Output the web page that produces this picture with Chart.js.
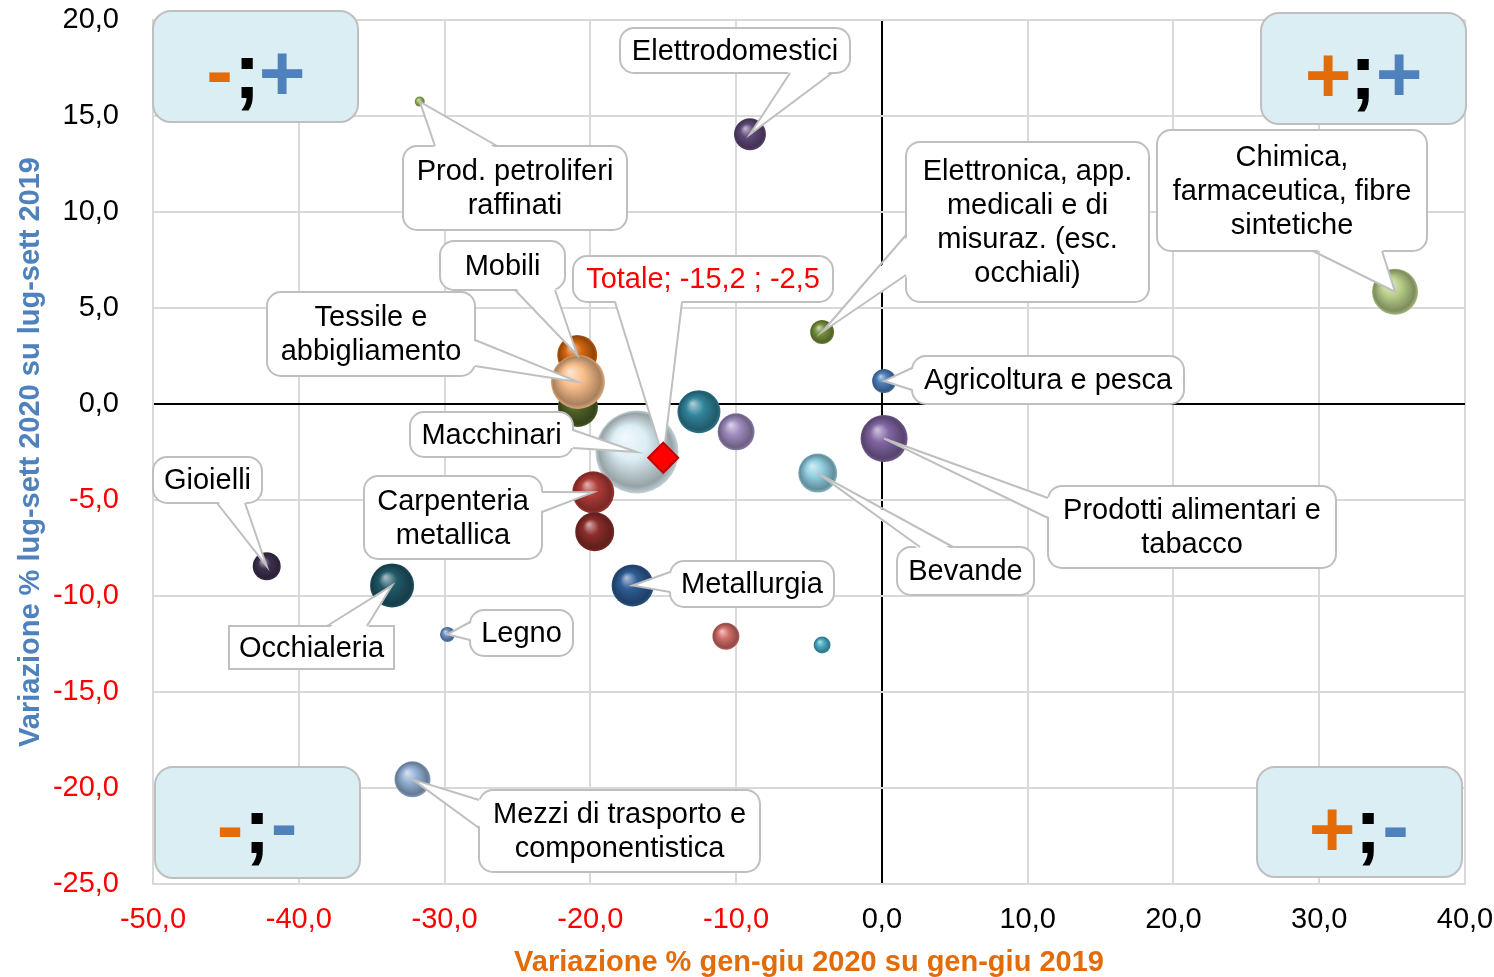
<!DOCTYPE html>
<html><head><meta charset="utf-8">
<script src="https://cdn.jsdelivr.net/npm/chart.js@4.4.1/dist/chart.umd.min.js"></script>
<style>html,body{margin:0;padding:0;background:#fff}</style>
</head><body>
<canvas id="c" width="1494" height="977"></canvas>
<script>
// ---------- DATA ----------
const categories = [
  "Prod. petroliferi\nraffinati",
  "Elettrodomestici",
  "Elettronica, app.\nmedicali e di\nmisuraz. (esc.\nocchiali)",
  "Chimica,\nfarmaceutica, fibre\nsintetiche",
  "Agricoltura e pesca",
  "Mobili",
  "",
  "Tessile e\nabbigliamento",
  "Macchinari",
  "",
  "",
  "Prodotti alimentari e\ntabacco",
  "Bevande",
  "Carpenteria\nmetallica",
  "",
  "Gioielli",
  "Occhialeria",
  "Metallurgia",
  "Legno",
  "",
  "",
  "Mezzi di trasporto e\ncomponentistica"
];
const xValues = [-31.7, -9.05, -4.1, 35.2, 0.15, -20.9, -20.85, -20.85, -16.8, -12.55, -10.0, 0.15, -4.4, -19.8, -19.7, -42.2, -33.6, -17.1, -29.8, -10.7, -4.1, -32.2];
const yValues = [15.75, 14.05, 3.75, 5.85, 1.2, 2.55, -0.15, 1.15, -2.5, -0.4, -1.45, -1.8, -3.6, -4.6, -6.65, -8.45, -9.45, -9.45, -12.0, -12.1, -12.55, -19.55];
const bubbleSizes = [5, 16, 12, 23, 12, 20, 20, 27, 41.5, 21.5, 18.5, 23.5, 19.5, 21, 19.5, 14, 22, 21, 7.5, 13.5, 8.5, 18];
const totalName = "Totale";
const totalX = -15.0;
const totalY = -2.8;
const totalText = "Totale; -15,2 ; -2,5";
const xTicks = [-50, -40, -30, -20, -10, 0, 10, 20, 30, 40];
const yTicks = [-25, -20, -15, -10, -5, 0, 5, 10, 15, 20];
const xTitle = "Variazione % gen-giu 2020 su gen-giu 2019";
const yTitle = "Variazione % lug-sett 2020 su lug-sett 2019";

// ---------- STYLES / LAYOUT ----------
const bubbleColors = ["#9bbb59","#5f497a","#77933c","#b8d08a","#4f81bd","#d4660f","#4f6228","#f9bd8a","#dceef4","#31859c","#a08cc0","#8064a2","#92d0e2","#b03c38","#8c2d2b","#3f3151","#215968","#2f5d96","#6b93c9","#d46e6a","#4bacc6","#95b3d7"];
const FONT = '"Liberation Sans", Arial, sans-serif';
const ORANGE = "#e36c09", BLUE = "#4f81bd";
const calloutLayout = [
  {i:0,  box:[403,146,627,230], base:[[435,146],[497,146]]},
  {i:1,  box:[620,28,850,73],   base:[[790,73],[832,73]]},
  {i:2,  box:[906,142,1149,302],base:[[906,235],[906,275]]},
  {i:3,  box:[1157,130,1427,251],base:[[1313,251],[1382,251]]},
  {i:4,  box:[912,356,1184,404],base:[[912,368],[912,390]]},
  {i:5,  box:[440,241,565,290], base:[[515,290],[555,290]]},
  {i:7,  box:[267,292,475,376], base:[[475,340],[475,366]]},
  {i:8,  box:[410,412,573,457], base:[[573,430],[573,448]]},
  {i:11, box:[1048,486,1336,568],base:[[1048,498],[1048,518]]},
  {i:12, box:[897,547,1034,595],base:[[920,547],[953,547]]},
  {i:13, box:[364,476,542,559], base:[[542,492],[542,512]]},
  {i:15, box:[153,457,262,503], base:[[217,503],[245,503]]},
  {i:16, box:[229,626,394,669], base:[[327,626],[367,626]], square:true},
  {i:17, box:[670,561,834,607], base:[[670,572],[670,592]]},
  {i:18, box:[470,610,573,656], base:[[470,622],[470,640]]},
  {i:21, box:[479,790,760,872], base:[[479,800],[479,828]]},
  {total:true, box:[573,256,833,302], base:[[615,302],[682,302]], color:"#ff0000"}
];
const quadrants = [
  {box:[153,11,358,122], syms:[["-",ORANGE,219.5,98],[";","#000",247,98],["+",BLUE,282,100]]},
  {box:[1261,13,1466,124], syms:[["+",ORANGE,1328,102],[";","#000",1363,99],["+",BLUE,1399,101]]},
  {box:[155,767,360,878], syms:[["-",ORANGE,230,853],[";","#000",257,853],["-",BLUE,284,851]]},
  {box:[1257,767,1462,877], syms:[["+",ORANGE,1332,856],[";","#000",1368,853],["-",BLUE,1395.5,853]]}
];

// ---------- HELPERS ----------
function rgb(h){h=h.replace('#','');return [parseInt(h.substr(0,2),16),parseInt(h.substr(2,2),16),parseInt(h.substr(4,2),16)];}
function mix(c,t,a){const A=rgb(c),B=rgb(t);return 'rgb('+A.map((v,k)=>Math.round(v+(B[k]-v)*a)).join(',')+')';}
function fmt(v){return v.toFixed(1).replace('.',',');}
function rr(ctx,x1,y1,x2,y2,r){
  ctx.beginPath();
  ctx.moveTo(x1+r,y1);ctx.lineTo(x2-r,y1);ctx.arcTo(x2,y1,x2,y1+r,r);
  ctx.lineTo(x2,y2-r);ctx.arcTo(x2,y2,x2-r,y2,r);
  ctx.lineTo(x1+r,y2);ctx.arcTo(x1,y2,x1,y2-r,r);
  ctx.lineTo(x1,y1+r);ctx.arcTo(x1,y1,x1+r,y1,r);ctx.closePath();
}
function noPad(s){ s.paddingTop = 0; s.paddingBottom = 0; s.paddingLeft = 0; s.paddingRight = 0; }

const bubbleData = xValues.map((x,k)=>({x:x,y:yValues[k],r:bubbleSizes[k]}));

function sphere(ctx){
  const base = bubbleColors[ctx.dataIndex] || '#888888';
  if (ctx.type!=='data' || !ctx.raw) return base;
  const ch = ctx.chart, xs = ch.scales.x, ys = ch.scales.y;
  if (!xs || !ys) return base;
  const px = xs.getPixelForValue(ctx.raw.x), py = ys.getPixelForValue(ctx.raw.y), r = ctx.raw.r;
  if (!isFinite(px) || !isFinite(py) || !isFinite(r)) return base;
  const g = ch.ctx.createRadialGradient(px-0.3*r, py-0.38*r, r*0.02, px, py, r);
  g.addColorStop(0, mix(base,'#ffffff',0.6));
  g.addColorStop(0.4, base);
  g.addColorStop(0.88, mix(base,'#000000',0.32));
  g.addColorStop(1, mix(base,'#000000',0.12));
  return g;
}

const calloutPlugin = {
  id:'callouts',
  afterDatasetDraw(chart, args){
    if (args.index!==0) return;
    const ctx = chart.ctx, xs = chart.scales.x, ys = chart.scales.y;
    ctx.save();
    calloutLayout.forEach(c=>{
      let tx, ty, text, color = c.color || '#000';
      if (c.total){ tx = xs.getPixelForValue(totalX); ty = ys.getPixelForValue(totalY); text = totalText; }
      else { tx = xs.getPixelForValue(xValues[c.i]); ty = ys.getPixelForValue(yValues[c.i]); text = categories[c.i]; }
      const [x1,y1,x2,y2] = c.box;
      ctx.lineWidth = 2; ctx.strokeStyle = '#bfbfbf'; ctx.fillStyle = '#ffffff';
      rr(ctx,x1,y1,x2,y2,c.square?0:14);
      ctx.fill(); ctx.stroke();
      const [b1,b2] = c.base;
      const cx=(x1+x2)/2, cy=(y1+y2)/2;
      const inw = p=>{const dx = p[0]===x1?3:(p[0]===x2?-3:0); const dy = p[1]===y1?3:(p[1]===y2?-3:0); return [p[0]+dx,p[1]+dy];};
      const i1=inw(b1), i2=inw(b2);
      ctx.beginPath(); ctx.moveTo(i1[0],i1[1]); ctx.lineTo(tx,ty); ctx.lineTo(i2[0],i2[1]); ctx.closePath();
      ctx.fill();
      ctx.beginPath(); ctx.moveTo(b1[0],b1[1]); ctx.lineTo(tx,ty); ctx.lineTo(b2[0],b2[1]);
      ctx.lineJoin='miter'; ctx.stroke();
      const lines = text.split('\n');
      ctx.fillStyle = color; ctx.font = '29px '+FONT; ctx.textAlign='center'; ctx.textBaseline='middle';
      lines.forEach((l,k)=>ctx.fillText(l, cx, cy + (k-(lines.length-1)/2)*34 + 1));
    });
    ctx.restore();
  },
  afterDatasetsDraw(chart){
    const ctx = chart.ctx;
    ctx.save();
    quadrants.forEach(q=>{
      const [x1,y1,x2,y2] = q.box;
      ctx.lineWidth = 2; ctx.strokeStyle = '#bfbfbf'; ctx.fillStyle = '#dbeef4';
      rr(ctx,x1,y1,x2,y2,18); ctx.fill(); ctx.stroke();
      ctx.font = 'bold 80px '+FONT; ctx.textAlign='center'; ctx.textBaseline='alphabetic';
      q.syms.forEach(s=>{ctx.fillStyle=s[1]; ctx.fillText(s[0], s[2], s[3]);});
    });
    ctx.restore();
  }
};

new Chart(document.getElementById('c'), {
  type:'bubble',
  data:{ datasets:[
    {label:'Settori', data:bubbleData, backgroundColor:sphere, borderWidth:0, order:1},
    {label:totalName, data:[{x:totalX,y:totalY,r:15}], pointStyle:'rectRot', backgroundColor:'#ff0000', borderColor:'#c00000', borderWidth:2, order:0}
  ]},
  options:{
    responsive:false, devicePixelRatio:1, animation:false, events:[],
    layout:{autoPadding:false, padding:{top:20,right:29,left:0,bottom:0}},
    plugins:{legend:{display:false}, tooltip:{enabled:false}},
    scales:{
      x:{ type:'linear', min:-50, max:40,
        afterBuildTicks:s=>{s.ticks = xTicks.map(v=>({value:v}));},
        afterFit:s=>{s.height = 93; noPad(s);},
        ticks:{ callback:v=>fmt(v), color:c=>c.tick.value<0?'#ff0000':'#000000', font:{family:FONT,size:29}, padding:19, maxRotation:0, autoSkip:false },
        grid:{ color:c=>c.tick && c.tick.value===0?'#000000':'#d9d9d9', lineWidth:2, drawTicks:false },
        border:{ display:true, color:'#d9d9d9', width:2 },
        title:{ display:true, text:xTitle, color:ORANGE, font:{family:FONT,size:29,weight:'bold'}, padding:{top:0,bottom:-3} }
      },
      y:{ type:'linear', min:-25, max:20,
        afterBuildTicks:s=>{s.ticks = yTicks.map(v=>({value:v}));},
        afterFit:s=>{s.width = 153; noPad(s);},
        ticks:{ callback:v=>fmt(v), color:c=>c.tick.value<0?'#ff0000':'#000000', font:{family:FONT,size:29}, padding:34, autoSkip:false },
        grid:{ color:c=>c.tick && c.tick.value===0?'#000000':'#d9d9d9', lineWidth:2, drawTicks:false },
        border:{ display:true, color:'#d9d9d9', width:2 },
        title:{ display:true, text:yTitle, color:BLUE, font:{family:FONT,size:29,weight:'bold'}, padding:{top:14,bottom:0} }
      }
    }
  },
  plugins:[calloutPlugin]
});
</script>
</body></html>
